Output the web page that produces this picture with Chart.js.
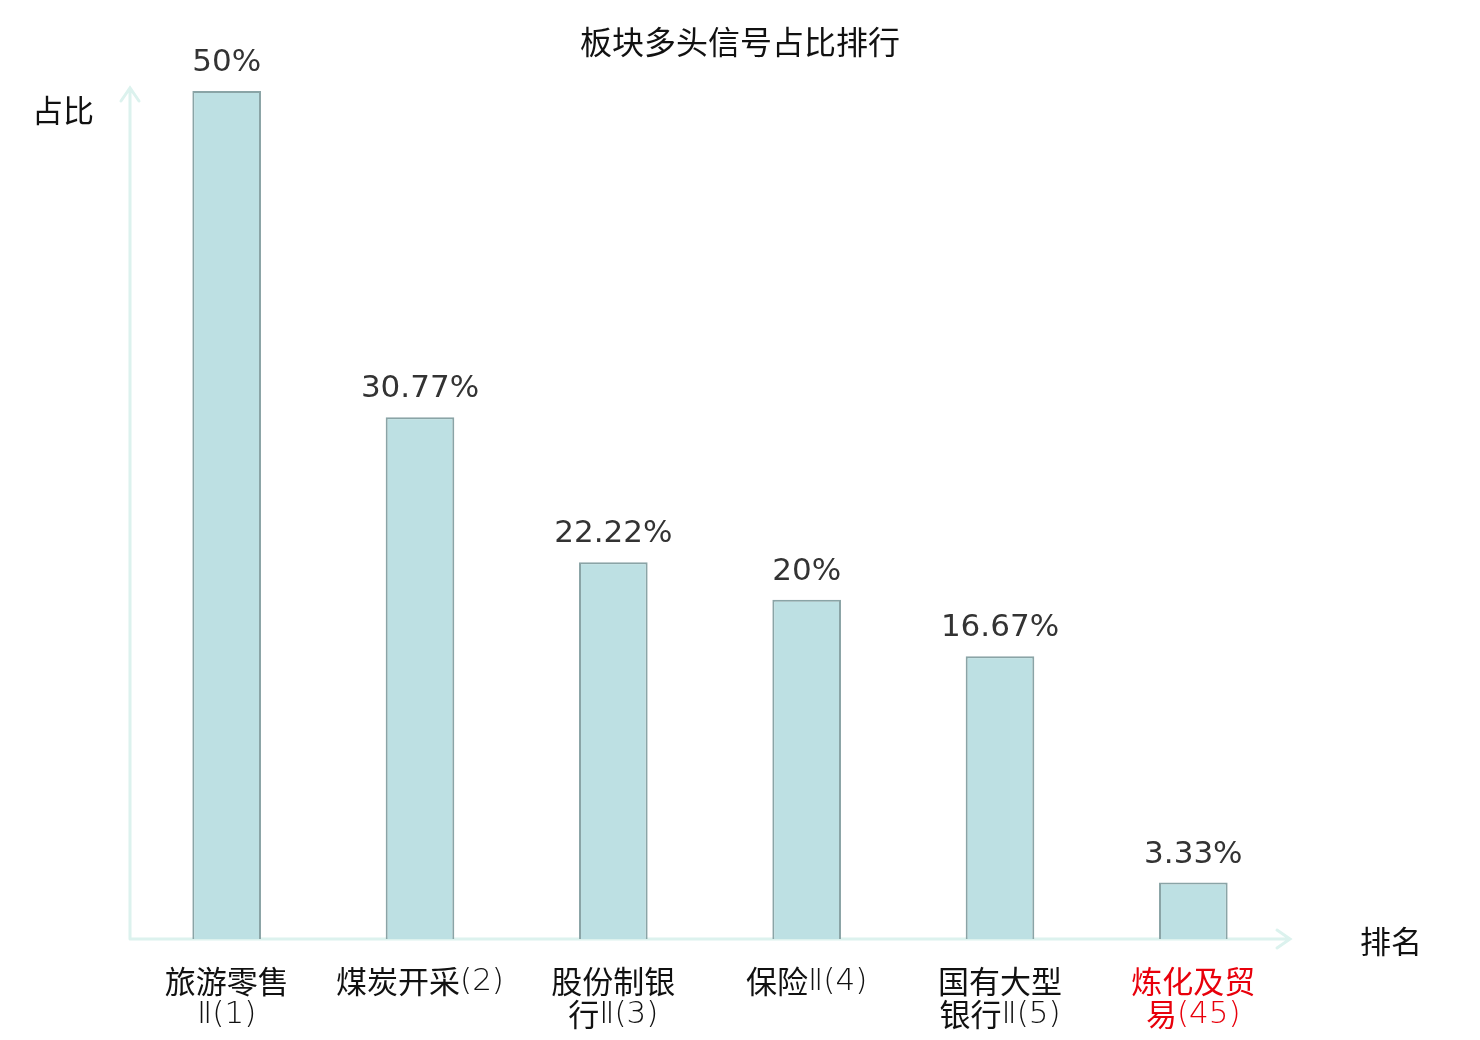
<!DOCTYPE html>
<html>
<head>
<meta charset="utf-8">
<script src="https://cdn.jsdelivr.net/npm/chart.js@4/dist/chart.umd.min.js"></script>
<style>
  html, body { margin: 0; padding: 0; background: #fff; }
  #wrap { width: 1480px; height: 1040px; position: relative; }
</style>
</head>
<body>
<div id="wrap"><canvas id="rankChart"></canvas></div>
<script>
// 板块多头信号占比排行
const categories = [
  ['旅游零售', 'Ⅱ(1)'],
  ['煤炭开采(2)'],
  ['股份制银', '行Ⅱ(3)'],
  ['保险Ⅱ(4)'],
  ['国有大型', '银行Ⅱ(5)'],
  ['炼化及贸', '易(45)']
];
const ratios = [50, 30.77, 22.22, 20, 16.67, 3.33];
const valueLabels = ['50%', '30.77%', '22.22%', '20%', '16.67%', '3.33%'];
const labelColors = ['#111', '#111', '#111', '#111', '#111', '#e8000b'];

const CJK = "'Noto Sans CJK SC', 'Noto Sans', sans-serif";
const LATIN = "'DejaVu Sans', sans-serif";
const AXIS = '#dcf2ee';

// draws a string split into CJK runs (regular) and latin runs (thin), centred at x
function drawMixed(ctx, text, x, y, size, color) {
  const runs = [];
  for (const ch of text) {
    const isCjk = /[\u4e00-\u9fff]/.test(ch);
    if (runs.length && runs[runs.length - 1].cjk === isCjk) runs[runs.length - 1].t += ch;
    else runs.push({ t: ch, cjk: isCjk });
  }
  const fontOf = r => r.cjk ? '400 ' + size + 'px ' + CJK : '200 ' + size + 'px ' + LATIN;
  let total = 0;
  runs.forEach(r => {
    ctx.font = fontOf(r);
    r.w = ctx.measureText(r.t).width;
    total += r.w;
  });
  let cx = x - total / 2;
  ctx.fillStyle = color;
  ctx.textAlign = 'left';
  ctx.textBaseline = 'middle';
  runs.forEach(r => {
    ctx.font = fontOf(r);
    ctx.fillText(r.t, cx, r.cjk ? y : y + 1);
    cx += r.w;
  });
}

const decorations = {
  id: 'decorations',
  beforeDatasetsDraw(chart) {
    const { ctx, chartArea } = chart;
    const left = chartArea.left, bottom = chartArea.bottom;
    ctx.save();
    // axes with arrow heads
    ctx.strokeStyle = AXIS;
    ctx.lineWidth = 3;
    ctx.lineCap = 'round';
    ctx.beginPath();
    ctx.moveTo(left, bottom);
    ctx.lineTo(left, chartArea.top - 3);
    ctx.moveTo(left - 9, chartArea.top + 10);
    ctx.lineTo(left, chartArea.top - 3);
    ctx.lineTo(left + 9, chartArea.top + 10);
    ctx.moveTo(left, bottom);
    ctx.lineTo(chartArea.right, bottom);
    ctx.moveTo(chartArea.right - 13, bottom - 9);
    ctx.lineTo(chartArea.right, bottom);
    ctx.lineTo(chartArea.right - 13, bottom + 9);
    ctx.stroke();
    ctx.restore();
  },
  afterDatasetsDraw(chart) {
    const { ctx, chartArea } = chart;
    const x = chart.scales.x, y = chart.scales.y;
    const bottom = chartArea.bottom;
    ctx.save();

    // value labels over the bars
    ctx.font = '31px ' + LATIN;
    ctx.fillStyle = '#333';
    ctx.textAlign = 'center';
    ctx.textBaseline = 'middle';
    ratios.forEach((v, i) => {
      ctx.fillText(valueLabels[i], x.getPixelForValue(i), y.getPixelForValue(v) - 28);
    });

    // category labels
    categories.forEach((lines, i) => {
      lines.forEach((line, j) => {
        drawMixed(ctx, line, x.getPixelForValue(i), bottom + 42 + j * 33, 31, labelColors[i]);
      });
    });

    // title and axis names
    ctx.fillStyle = '#111';
    ctx.textAlign = 'center';
    ctx.font = '32px ' + CJK;
    ctx.fillText('板块多头信号占比排行', 740, 42);
    ctx.font = '31px ' + CJK;
    ctx.fillText('占比', 63, 110);
    ctx.fillText('排名', 1391, 941);
    ctx.restore();
  }
};

new Chart(document.getElementById('rankChart'), {
  type: 'bar',
  data: {
    labels: categories,
    datasets: [{
      data: ratios,
      backgroundColor: '#bde0e3',
      borderColor: '#8aa4a6',
      borderWidth: 2,
      barPercentage: 0.355,
      categoryPercentage: 1
    }]
  },
  options: {
    responsive: true,
    maintainAspectRatio: false,
    animation: false,
    layout: { padding: { left: 130, right: 190, top: 91, bottom: 101 } },
    plugins: {
      legend: { display: false },
      tooltip: { enabled: false }
    },
    scales: {
      x: { display: false },
      y: { display: false, min: 0, max: 50 }
    }
  },
  plugins: [decorations]
});
</script>
</body>
</html>
